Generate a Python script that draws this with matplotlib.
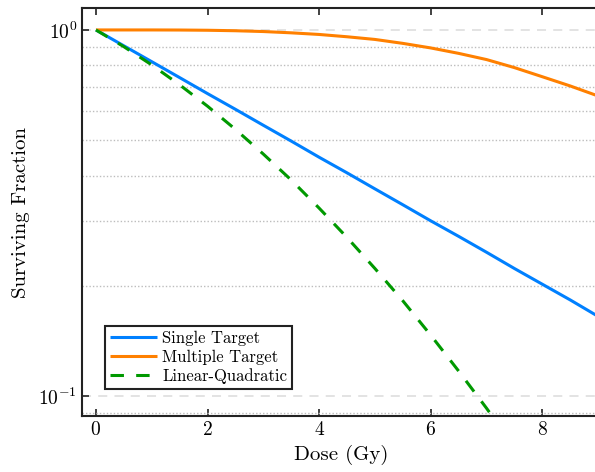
import matplotlib
matplotlib.use("Agg")
import matplotlib.pyplot as plt
from matplotlib.ticker import LogLocator, NullFormatter

plt.rcParams['font.family'] = ['cmr10']
plt.rcParams['mathtext.fontset'] = 'cm'
plt.rcParams['axes.formatter.use_mathtext'] = True

dose = [0, 0.5, 1, 1.5, 2, 2.5, 3, 3.5, 4, 4.5, 5, 5.5, 6, 6.5, 7, 7.5, 8, 8.5, 9, 9.5]
single_target = [1.0, 0.905, 0.819, 0.741, 0.670, 0.607, 0.549, 0.497, 0.449, 0.407,
                 0.368, 0.333, 0.301, 0.273, 0.247, 0.223, 0.202, 0.183, 0.165, 0.150]
multi_target = [1.0, 1.0, 1.0, 0.9995, 0.998, 0.995, 0.990, 0.982, 0.972, 0.958,
                0.942, 0.919, 0.893, 0.863, 0.830, 0.789, 0.745, 0.703, 0.660, 0.617]
linear_quadratic = [1.0, 0.900, 0.8025, 0.708, 0.619, 0.535, 0.458, 0.389, 0.326, 0.271,
                    0.223, 0.182, 0.1466, 0.117, 0.0926, 0.0724, 0.0561, 0.0431, 0.0327, 0.0247]

fig = plt.figure(figsize=(5.95, 4.72), dpi=100)
ax = fig.add_axes([82/595, 56/472, 1 - 82/595 + 0.01, (416-8)/472])

ax.plot(dose, single_target, color='#0080ff', lw=2.2, label='Single Target', solid_capstyle='butt')
ax.plot(dose, multi_target, color='#ff8000', lw=2.2, label='Multiple Target', solid_capstyle='butt')
ax.plot(dose, linear_quadratic, color='#009900', lw=2.2, linestyle=(0, (4.4, 4.0)),
        label='Linear-Quadratic')

ax.set_yscale('log')
ax.set_xlim(-0.25, 9.05)
ax.set_ylim(0.0882, 1.148)
ax.set_xticks([0, 2, 4, 6, 8])
ax.yaxis.set_major_locator(LogLocator(base=10, numticks=5))
ax.yaxis.set_minor_locator(LogLocator(base=10, subs=[2, 3, 4, 5, 6, 7, 8, 9], numticks=10))
ax.yaxis.set_minor_formatter(NullFormatter())

ax.grid(True, which='major', axis='y', color='#e0e0e0', linestyle=(0, (5, 4)), lw=1.3)
ax.grid(True, which='minor', axis='y', color='#bdbdbd', linestyle=(0, (1, 1.5)), lw=1.0)
ax.set_axisbelow(True)

ax.tick_params(axis='both', which='major', direction='in', length=5, width=1.3,
               labelsize=14, top=True, right=False, color='#333333')
ax.tick_params(axis='y', which='minor', length=0)
for s in ax.spines.values():
    s.set_linewidth(1.5)
    s.set_color('#222222')
ax.spines['right'].set_visible(False)

ax.set_xlabel('Dose (Gy)', fontsize=15, labelpad=4)
ax.set_ylabel('Surviving Fraction', fontsize=15, labelpad=6)

leg = ax.legend(loc='lower left', bbox_to_anchor=(0.045, 0.066), borderaxespad=0,
                fontsize=12, fancybox=False, edgecolor='#222222', framealpha=1,
                handlelength=2.8, handletextpad=0.3, labelspacing=0.2, borderpad=0.3)
leg.get_frame().set_linewidth(1.5)

fig.savefig('out.png', dpi=100)
